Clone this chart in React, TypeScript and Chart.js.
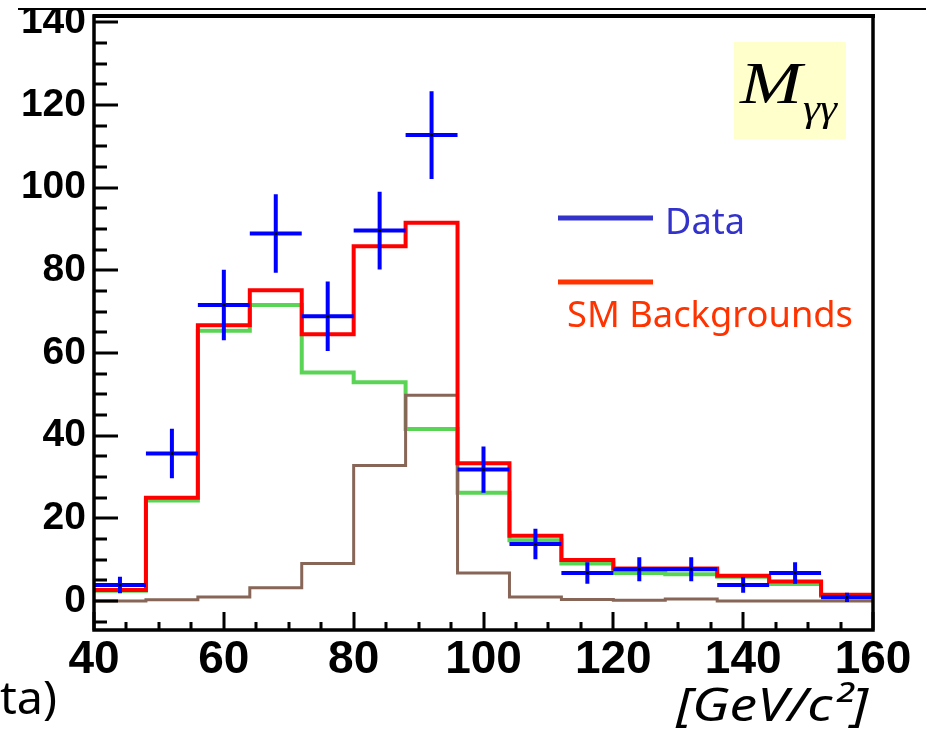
import React, { useEffect, useRef } from "react";
import { Chart, registerables } from "chart.js";
Chart.register(...registerables);

// ---- data ----
const binEdges = [40, 48, 56, 64, 72, 80, 88, 96, 104, 112, 120, 128, 136, 144, 152];
const lastEdge = 160;
const binWidth = 8;
const dataCounts = [3.9, 35.7, 71.6, 88.9, 68.9, 89.6, 112.7, 31.8, 13.8, 6.8, 7.7, 7.7, 3.9, 6.8, 0.9];
const dataErrors = [2.0, 6.0, 8.5, 9.5, 8.4, 9.4, 10.6, 5.6, 3.7, 2.6, 2.9, 2.9, 1.9, 2.6, 1.1];
const smTotal = [2.7, 25.0, 66.7, 75.2, 64.5, 85.8, 91.5, 33.3, 15.8, 9.9, 7.9, 7.9, 6.1, 4.7, 1.5];
const greenBkg = [2.5, 24.3, 65.4, 71.6, 55.3, 52.9, 41.6, 26.2, 14.7, 9.1, 6.8, 6.5, 5.9, 4.1, 1.2];
const brownBkg = [0.0, 0.3, 1.0, 3.2, 9.1, 32.8, 49.8, 6.8, 1.0, 0.4, 0.2, 0.5, 0.0, 0.0, 0.0];
const xTickValues = [40, 60, 80, 100, 120, 140, 160];
const yTickValues = [0, 20, 40, 60, 80, 100, 120, 140];
const minorStep = 5;
const legendLabels = ["Data", "SM Backgrounds"];
const xAxisTitle = "[GeV/c\u00B2]";
const cutText = "ta)";

const histPoints = (vals: number[]) =>
  binEdges.map((e, i) => ({ x: e, y: vals[i] })).concat([{ x: lastEdge, y: vals[vals.length - 1] }]);

const crossPoints = () => {
  const pts: any[] = [];
  binEdges.forEach((e, i) => {
    const c = e + binWidth / 2;
    const v = dataCounts[i];
    const er = dataErrors[i];
    pts.push({ x: e, y: v }, { x: e + binWidth, y: v }, { x: c, y: null });
    pts.push({ x: c, y: v - er }, { x: c, y: v + er }, { x: c, y: null });
  });
  return pts;
};

const fitText = (ctx: CanvasRenderingContext2D, text: string, x: number, baseline: number, width: number, font: string, color: string) => {
  ctx.save();
  ctx.font = font;
  ctx.fillStyle = color;
  ctx.textAlign = "left";
  ctx.textBaseline = "alphabetic";
  const w = ctx.measureText(text).width;
  ctx.translate(x, baseline);
  ctx.scale(width / w, 1);
  ctx.fillText(text, 0, 0);
  ctx.restore();
};

const decor = {
  id: "decor",
  afterDraw(chart: any) {
    const { ctx, chartArea: a } = chart;
    const xs = chart.scales.x;
    const ys = chart.scales.y;
    ctx.save();
    // inner ticks
    ctx.strokeStyle = "#000";
    ctx.lineWidth = 3;
    ctx.beginPath();
    for (let v = -5; v <= 140; v += minorStep) {
      const py = Math.round(ys.getPixelForValue(v));
      const len = v % 20 === 0 ? 24 : 13;
      ctx.moveTo(a.left, py);
      ctx.lineTo(a.left + len, py);
    }
    for (let v = 40; v <= 160; v += minorStep) {
      const px = Math.round(xs.getPixelForValue(v));
      const len = v % 20 === 0 ? 18 : 8;
      ctx.moveTo(px, a.bottom);
      ctx.lineTo(px, a.bottom - len);
    }
    ctx.stroke();
    // frame
    ctx.lineWidth = 3.5;
    ctx.strokeRect(a.left, a.top, a.right - a.left, a.bottom - a.top);
    ctx.lineWidth = 4;
    ctx.beginPath();
    ctx.moveTo(a.left - 1, a.top);
    ctx.lineTo(a.right + 2, a.top);
    ctx.stroke();
    // top slide band
    ctx.fillStyle = "#fff";
    ctx.fillRect(0, 0, chart.width, 8);
    ctx.lineWidth = 2;
    ctx.beginPath();
    ctx.moveTo(18, 9);
    ctx.lineTo(chart.width, 9);
    ctx.stroke();
    // M box
    ctx.fillStyle = "#ffffcc";
    ctx.fillRect(734, 42, 112, 97);
    fitText(ctx, "M", 740, 103, 62, "italic 60px 'Liberation Serif'", "#000");
    fitText(ctx, "\u03B3\u03B3", 803, 121, 34, "italic 38px 'Liberation Serif'", "#000");
    // legend
    ctx.lineWidth = 5;
    ctx.strokeStyle = "#3333cc";
    ctx.beginPath();
    ctx.moveTo(558, 218);
    ctx.lineTo(653, 218);
    ctx.stroke();
    ctx.strokeStyle = "#ff3300";
    ctx.beginPath();
    ctx.moveTo(558, 282);
    ctx.lineTo(653, 282);
    ctx.stroke();
    fitText(ctx, legendLabels[0], 665, 234, 80, "37px 'Noto Sans'", "#3333cc");
    fitText(ctx, legendLabels[1], 567, 327, 286, "37px 'Noto Sans'", "#ff3300");
    fitText(ctx, xAxisTitle, 676, 721, 192, "italic 46px 'Noto Sans'", "#000");
    fitText(ctx, cutText, 0, 714, 57, "46px 'Noto Sans'", "#000");
    ctx.restore();
  },
};

export default function App() {
  const ref = useRef<HTMLCanvasElement | null>(null);
  useEffect(() => {
    const canvas = ref.current!;
    const chart = new Chart(canvas, {
      type: "line",
      data: {
        datasets: [
          {
            type: "scatter",
            data: binEdges.map((e, i) => ({ x: e + binWidth / 2, y: dataCounts[i] })),
            pointRadius: 1.6,
            pointBackgroundColor: "#000",
            pointBorderWidth: 0,
            showLine: false,
            order: 0,
          } as any,
          {
            data: crossPoints(),
            borderColor: "#0000ff",
            borderWidth: 4,
            pointRadius: 0,
            spanGaps: false,
            borderCapStyle: "butt",
            order: 1,
          },
          {
            data: histPoints(smTotal),
            stepped: true,
            borderColor: "#ff0000",
            borderWidth: 4,
            pointRadius: 0,
            borderJoinStyle: "miter",
            order: 2,
          },
          {
            data: histPoints(brownBkg),
            stepped: true,
            borderColor: "#876657",
            borderWidth: 3,
            pointRadius: 0,
            borderJoinStyle: "miter",
            order: 3,
          },
          {
            data: histPoints(greenBkg),
            stepped: true,
            borderColor: "#59d454",
            borderWidth: 4,
            pointRadius: 0,
            borderJoinStyle: "miter",
            order: 4,
          },
        ],
      },
      options: {
        animation: false,
        responsive: false,
        devicePixelRatio: 1,
        layout: { padding: { top: 16, right: 53, left: 0, bottom: 0 } },
        plugins: { legend: { display: false }, tooltip: { enabled: false } },
        events: [],
        scales: {
          x: {
            type: "linear",
            min: 40,
            max: 160,
            grid: { display: false, drawTicks: false },
            border: { display: false },
            afterBuildTicks: (s: any) => {
              s.ticks = xTickValues.map((v) => ({ value: v }));
            },
            afterFit: (s: any) => {
              s.height = 100;
              s.paddingLeft = 0;
              s.paddingRight = 0;
            },
            ticks: {
              autoSkip: false,
              maxRotation: 0,
              padding: 3,
              color: "#000",
              font: { family: "'Liberation Sans'", size: 46, weight: "bold" },
            },
          },
          y: {
            type: "linear",
            min: -7,
            max: 141.5,
            grid: { display: false, drawTicks: false },
            border: { display: false },
            afterBuildTicks: (s: any) => {
              s.ticks = yTickValues.map((v) => ({ value: v }));
            },
            afterFit: (s: any) => {
              s.width = 94;
              s.paddingTop = 0;
              s.paddingBottom = 0;
            },
            ticks: {
              autoSkip: false,
              padding: 8,
              color: "#000",
              font: { family: "'Liberation Sans'", size: 39, weight: "bold" },
            },
          },
        },
      },
      plugins: [decor],
    } as any);
    return () => chart.destroy();
  }, []);
  return (
    <div style={{ position: "absolute", left: 0, top: 0, width: 926, height: 730, background: "#fff" }}>
      <canvas ref={ref} width={926} height={730} style={{ display: "block" }} />
    </div>
  );
}
